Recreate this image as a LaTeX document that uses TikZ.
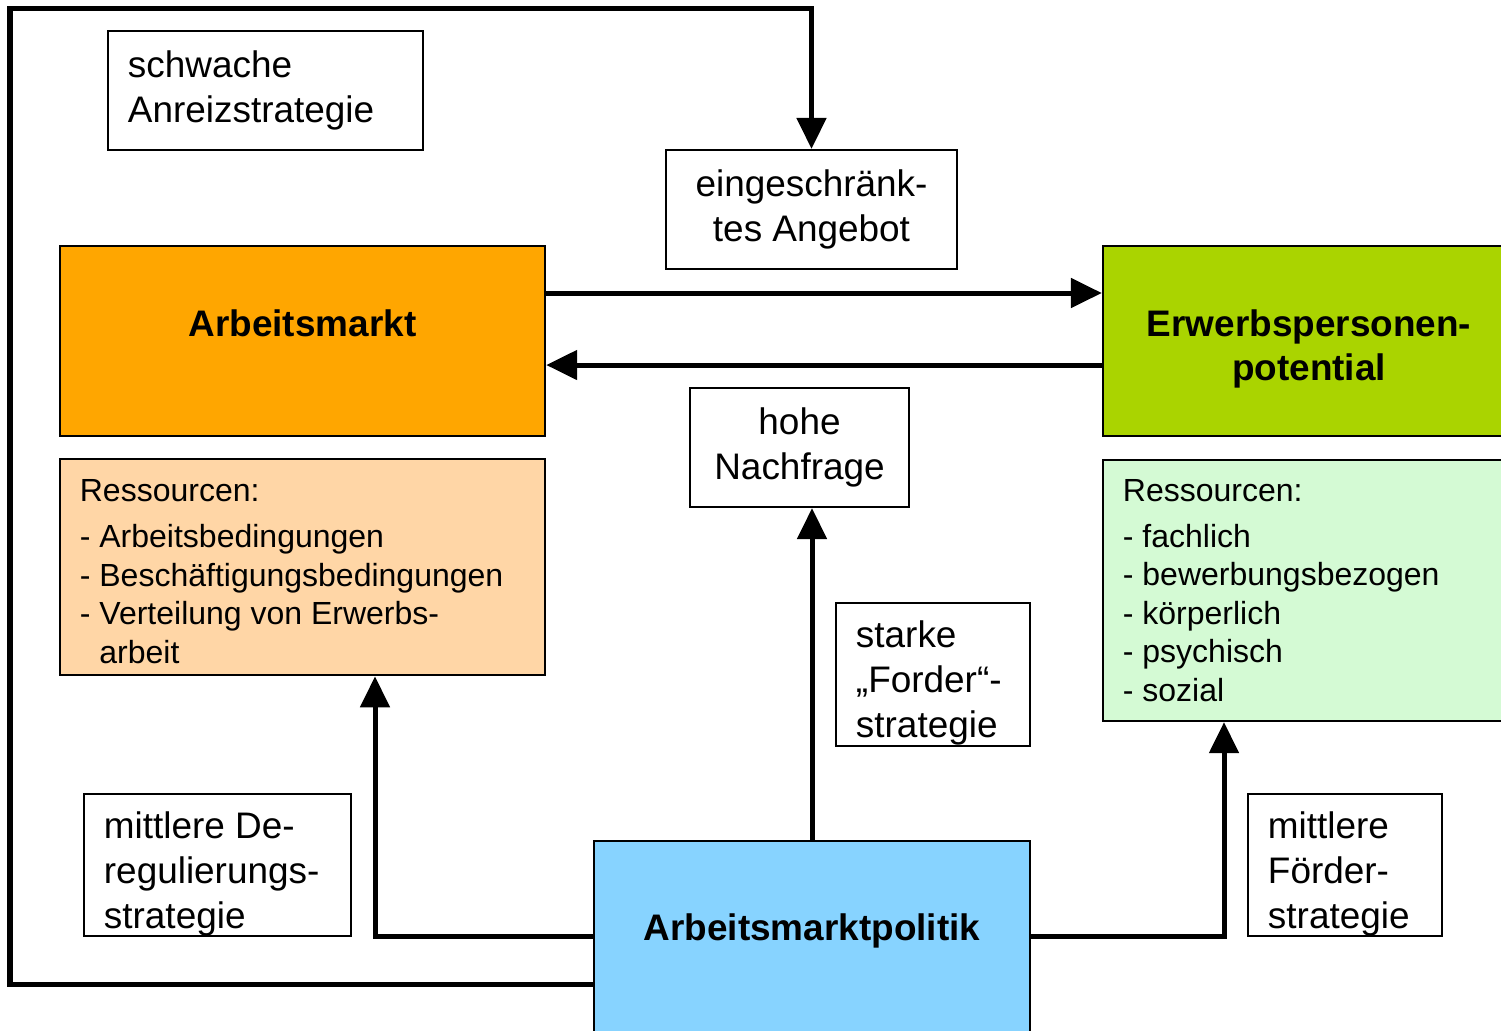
\documentclass[tikz,border=0pt]{standalone}
\usepackage{fontspec}
\setmainfont{Liberation Sans}
\usetikzlibrary{arrows.meta, positioning}
\definecolor{amorange}{RGB}{255,166,0}
\definecolor{erwgreen}{RGB}{170,212,0}
\definecolor{respeach}{RGB}{255,214,166}
\definecolor{resgreen}{RGB}{212,250,212}
\definecolor{ampblue}{RGB}{135,211,255}
\newcommand{\padtop}[1]{\rule{0pt}{#1}} % taller first line pushes the text down
\tikzset{
conn/.style={line width=0.05cm, -{Triangle[length=0.31cm, width=0.29cm]}}, % thick connectors with solid heads
strat/.style={draw, line width=0.6pt, inner xsep=0.2cm, inner ysep=0pt, font=\fontsize{10.5}{12.8}\selectfont}, % white strategy boxes
title/.style={draw, line width=0.6pt, font=\bfseries\fontsize{10.5}{12.4}\selectfont, align=flush center}, % coloured main boxes
res/.style={draw, line width=0.6pt, inner xsep=0.2cm, align=flush left, font=\fontsize{9.1}{10.95}\selectfont}, % resource lists
}
\begin{document}
\begin{tikzpicture}[x=0.01cm, y=-0.01cm]
                \useasboundingbox (0,0) rectangle (1501,1030);
                \clip (0,0) rectangle (1501,1030);
                \node[strat, align=flush left, text width=2.75cm, minimum height=1.19cm] (schw) at (265.5,90.5) {schwache\\Anreizstrategie};
                \node[strat, align=flush center, text width=2.51cm, minimum height=1.19cm] (eing) at (811.5,209.5) {eingeschränk-\\tes Angebot};
                \node[title, fill=amorange, minimum width=4.85cm, minimum height=1.9cm, text height=0.2cm, text depth=0.3cm] (am) at (302.5,341) {Arbeitsmarkt};
                \node[title, fill=erwgreen, minimum width=4.12cm, minimum height=1.9cm] (erw) at (1309,341) {\padtop{12.2pt}Erwerbspersonen-\\potential};
                \node[strat, align=flush center, text width=1.79cm, minimum height=1.19cm] (hohe) at (799.5,447.5) {hohe\\Nachfrage};
                \node[res, fill=respeach, text width=4.45cm, minimum height=2.14cm] (res1) at (302.5,567) {\padtop{8.9pt}Ressourcen:\\[0.075cm]
                    - Arbeitsbedingungen\\
                    - Beschäftigungsbedingungen\\
                    - Verteilung von Erwerbs-\\
                    \phantom{- }arbeit};
                \node[res, fill=resgreen, text width=3.72cm, minimum height=2.61cm] (res2) at (1309,590.5) {Ressourcen:\\[0.075cm]
                    - fachlich\\
                    - bewerbungsbezogen\\
                    - körperlich\\
                    - psychisch\\
                    - sozial};
                \node[strat, align=flush left, text width=1.54cm, minimum height=1.43cm] (stark) at (933,674.5) {\padtop{12.3pt}starke\\„Forder“-\\strategie};
                \node[strat, align=flush left, text width=2.27cm, minimum height=1.42cm] (dereg) at (217.5,865) {\padtop{12.8pt}mittlere De-\\regulierungs-\\strategie};
                \node[strat, align=flush left, text width=1.54cm, minimum height=1.42cm] (foerd) at (1345,865) {\padtop{12.8pt}mittlere\\Förder-\\strategie};
                \node[title, fill=ampblue, minimum width=4.36cm, minimum height=2.04cm, text height=0.2cm, text depth=0.26cm] (amp) at (812,943) {Arbeitsmarktpolitik};
                \draw[conn] (amp.west |- 0,984) -- (10,984) -- (10,8) -| (eing.north);
                \draw[conn] (am.east |- 0,293) -- (erw.west |- 0,293);
                \draw[conn] (erw.west |- 0,365) -- (am.east |- 0,365);
                \draw[conn] (amp.north) -- (amp.north |- hohe.south);
                \draw[conn] (amp.west |- 0,936) -| (res1.south -| 375,0);
                \draw[conn] (amp.east |- 0,936) -| (res2.south -| 1224,0);
                \end{tikzpicture}
\end{document}
